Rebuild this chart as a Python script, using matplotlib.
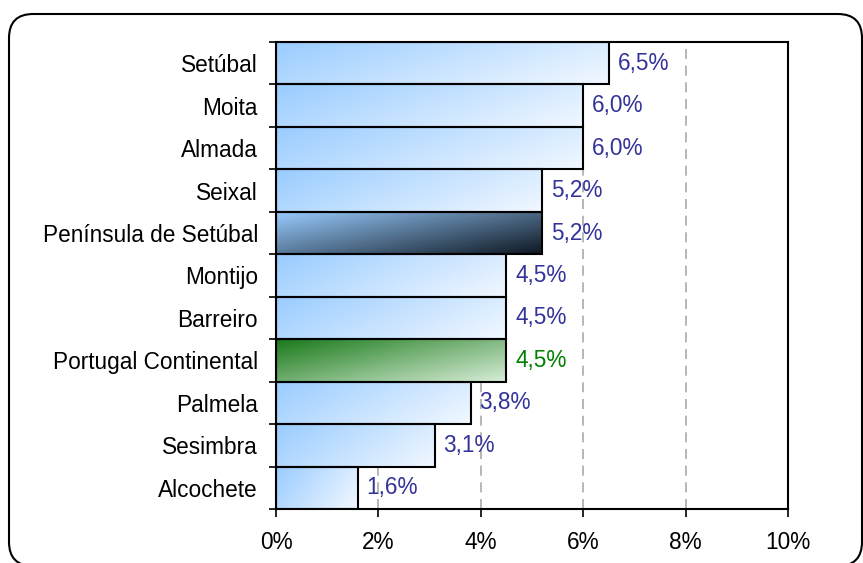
import numpy as np
import matplotlib
matplotlib.use("Agg")
import matplotlib.pyplot as plt
from matplotlib.patches import FancyBboxPatch, Rectangle
from matplotlib.colors import LinearSegmentedColormap

plt.rcParams['font.family'] = ['Liberation Sans', 'DejaVu Sans']

categories = ["Setúbal", "Moita", "Almada", "Seixal", "Península de Setúbal",
              "Montijo", "Barreiro", "Portugal Continental", "Palmela",
              "Sesimbra", "Alcochete"]
values = [6.5, 6.0, 6.0, 5.2, 5.2, 4.5, 4.5, 4.5, 3.8, 3.1, 1.6]
value_labels = ["6,5%", "6,0%", "6,0%", "5,2%", "5,2%", "4,5%", "4,5%",
                "4,5%", "3,8%", "3,1%", "1,6%"]
xticks = [0, 2, 4, 6, 8, 10]
xtick_labels = ["0%", "2%", "4%", "6%", "8%", "10%"]

cmap_blue = LinearSegmentedColormap.from_list("b", ["#99CCFF", "#F2F8FF"])
cmap_dark = LinearSegmentedColormap.from_list("d", ["#99CCFF", "#0E1822"])
cmap_green = LinearSegmentedColormap.from_list("g", ["#1A7A1A", "#D8EDD8"])

FS = 16.3

fig = plt.figure(figsize=(8.63, 5.63), dpi=100)
frame = FancyBboxPatch((9/863, -3/563), 853/863, (566 - 14)/563,
                       boxstyle="round,pad=0,rounding_size=0.028",
                       transform=fig.transFigure, fill=False,
                       edgecolor="black", linewidth=1.5, mutation_aspect=863/563)
fig.patches.append(frame)

ax = fig.add_axes([276/863, 1 - 509/563, (788 - 276)/863, (509 - 42)/563])
n = len(categories)
ypos = np.arange(n)
ax.set_xlim(0, 10)
ax.set_ylim(n - 0.5, -0.5)

for x in [2, 4, 6, 8]:
    ax.axvline(x, color="#AAAAAA", linestyle=(0, (6, 4)), linewidth=1.2, zorder=0)

yy, xx = np.mgrid[0:1:50j, 0:1:200j]
for i, (v, lab) in enumerate(zip(values, value_labels)):
    cat = categories[i]
    if cat == "Península de Setúbal":
        cm, tcol = cmap_dark, "#333399"
        t = 0.55 * xx + 0.45 * yy
    elif cat == "Portugal Continental":
        cm, tcol = cmap_green, "#008000"
        t = 0.55 * xx + 0.45 * yy
    else:
        cm, tcol = cmap_blue, "#333399"
        t = 0.72 * xx + 0.28 * yy
    rect = Rectangle((0, i - 0.5), v, 1.0, facecolor="none",
                     edgecolor="black", linewidth=1.5, zorder=3)
    ax.add_patch(rect)
    im = ax.imshow(t, cmap=cm, vmin=0, vmax=1, aspect="auto",
                   extent=(0, v, i + 0.5, i - 0.5), zorder=2,
                   interpolation="bilinear")
    im.set_clip_path(rect)
    ax.text(v + 0.17, i, lab, va="center", ha="left", color=tcol,
            fontsize=FS, zorder=4)

ax.set_xlim(0, 10)
ax.set_ylim(n - 0.5, -0.5)
ax.set_yticks(ypos)
ax.set_yticklabels(categories, fontsize=FS)
ax.set_yticks(np.arange(-0.5, n, 1), minor=True)
ax.tick_params(axis="y", which="major", length=0, pad=13)
ax.tick_params(axis="y", which="minor", length=5, width=1.2, direction="out")
ax.set_xticks(xticks)
ax.set_xticklabels(xtick_labels, fontsize=FS)
ax.tick_params(axis="x", length=6, width=1.2, direction="out", pad=10)
for s in ax.spines.values():
    s.set_linewidth(1.5)
    s.set_zorder(5)

fig.savefig("out.png", dpi=100)
